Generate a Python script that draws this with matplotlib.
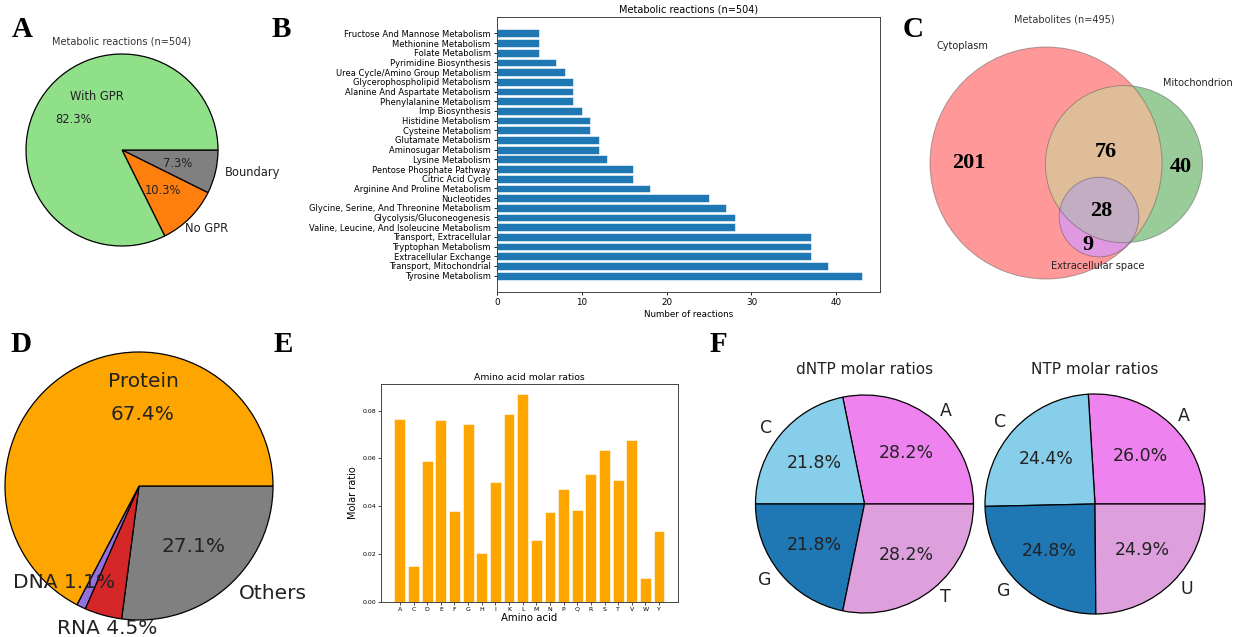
import numpy as np
import matplotlib
matplotlib.use('Agg')
import matplotlib.pyplot as plt
from matplotlib.patches import Circle

plt.rcParams['font.family'] = 'DejaVu Sans'

# ---------------- data ----------------
# A: reaction GPR status (counts, n=504)
gpr_labels = ['Boundary', 'No GPR', 'With GPR']
gpr_counts = [37, 52, 415]
gpr_colors = ['#808080', '#ff7f0e', '#90e08a']

# B: reactions per subsystem
subsystems = ['Tyrosine Metabolism', 'Transport, Mitochondrial', 'Extracellular Exchange',
              'Tryptophan Metabolism', 'Transport, Extracellular',
              'Valine, Leucine, And Isoleucine Metabolism', 'Glycolysis/Gluconeogenesis',
              'Glycine, Serine, And Threonine Metabolism', 'Nucleotides',
              'Arginine And Proline Metabolism', 'Citric Acid Cycle', 'Pentose Phosphate Pathway',
              'Lysine Metabolism', 'Aminosugar Metabolism', 'Glutamate Metabolism',
              'Cysteine Metabolism', 'Histidine Metabolism', 'Imp Biosynthesis',
              'Phenylalanine Metabolism', 'Alanine And Aspartate Metabolism',
              'Glycerophospholipid Metabolism', 'Urea Cycle/Amino Group Metabolism',
              'Pyrimidine Biosynthesis', 'Folate Metabolism', 'Methionine Metabolism',
              'Fructose And Mannose Metabolism']
subsystem_counts = [43, 39, 37, 37, 37, 28, 28, 27, 25, 18, 16, 16, 13, 12, 12, 11, 11, 10,
                    9, 9, 9, 8, 7, 5, 5, 5]

# C: metabolite compartments (Venn region counts)
venn_set_names = ['Cytoplasm', 'Mitochondrion', 'Extracellular space']
venn_only_cyto = 201
venn_only_mito = 40
venn_cyto_mito = 76
venn_cyto_extra = 9
venn_all = 28

# D: biomass composition (%)
comp_labels = ['Others', 'RNA', 'DNA', 'Protein']
comp_pct = [27.1, 4.5, 1.1, 67.4]
comp_colors = ['#808080', '#d62728', '#9370db', '#ffa500']

# E: amino acid molar ratios
amino_acids = ['A', 'C', 'D', 'E', 'F', 'G', 'H', 'I', 'K', 'L',
               'M', 'N', 'P', 'Q', 'R', 'S', 'T', 'V', 'W', 'Y']
aa_ratios = [0.0764, 0.0150, 0.0588, 0.0760, 0.0381, 0.0743, 0.0204, 0.0500, 0.0788, 0.0868,
             0.0261, 0.0378, 0.0472, 0.0386, 0.0537, 0.0637, 0.0512, 0.0677, 0.0101, 0.0295]

# F: nucleotide molar ratios
dntp_labels = ['A', 'C', 'G', 'T']
dntp_pct = [28.2, 21.8, 21.8, 28.2]
ntp_labels = ['A', 'C', 'G', 'U']
ntp_pct = [26.0, 24.4, 24.8, 24.9]
nuc_colors = ['#ee82ee', '#87ceeb', '#1f77b4', '#dda0dd']

# ---------------- layout helpers ----------------
W, H = 1243, 637
fig = plt.figure(figsize=(W / 100, H / 100), dpi=100)


def rect_px(l, t, r, b):
    return [l / W, 1 - b / H, (r - l) / W, (b - t) / H]


def pie_axes(cx, cy, r, hw, hh):
    ax = fig.add_axes(rect_px(cx - hw, cy - hh, cx + hw, cy + hh))
    return ax, hw / r, hh / r


def fix_pie(ax, lx, ly):
    ax.set_xlim(-lx, lx)
    ax.set_ylim(-ly, ly)
    ax.set_aspect('auto')
    ax.axis('off')


txt = '#222222'
letter_font = dict(family='Liberation Serif', fontweight='bold', fontsize=21)

# ---------------- Panel A ----------------
axA, lx, ly = pie_axes(122, 150, 96, 140, 140)
axA.pie(gpr_counts, colors=gpr_colors, startangle=0, counterclock=False,
        autopct='%1.1f%%', pctdistance=0.6,
        wedgeprops=dict(edgecolor='black', linewidth=0.9),
        textprops=dict(fontsize=8.3, color=txt))
fix_pie(axA, lx, ly)
axA.text(-0.26, 0.56, gpr_labels[2], ha='center', va='center', fontsize=8.3, color=txt)
axA.text(0.66, -0.82, gpr_labels[1], ha='left', va='center', fontsize=8.3, color=txt)
axA.text(1.07, -0.23, gpr_labels[0], ha='left', va='center', fontsize=8.3, color=txt)
axA.text(0, 1.125, 'Metabolic reactions (n=504)', ha='center', va='center', fontsize=7, color='#333333')

# ---------------- Panel B ----------------
axB = fig.add_axes(rect_px(497, 17, 880, 292))
ypos = np.arange(len(subsystems))
axB.barh(ypos, subsystem_counts, height=0.8, color='#1f77b4', edgecolor='white', linewidth=0.4)
axB.set_yticks(ypos)
axB.set_yticklabels(subsystems, fontsize=6)
axB.set_xticks([0, 10, 20, 30, 40])
axB.tick_params(axis='x', labelsize=6.3, length=2.5, width=0.6, pad=2)
axB.tick_params(axis='y', length=2.5, width=0.6, pad=2)
axB.set_xlabel('Number of reactions', fontsize=6.3, labelpad=2)
axB.set_title('Metabolic reactions (n=504)', fontsize=7, pad=3)
for s in axB.spines.values():
    s.set_linewidth(0.7)
    s.set_color('#444444')

# ---------------- Panel C (Venn) ----------------
cyto_total = venn_only_cyto + venn_cyto_mito + venn_cyto_extra + venn_all
mito_total = venn_only_mito + venn_cyto_mito + venn_all
extra_total = venn_cyto_extra + venn_all
radii = np.sqrt(np.array([cyto_total, mito_total, extra_total]) / cyto_total)
centers = [(0.0, 0.0), (0.672, -0.01), (0.457, -0.466)]

scale = 116.0
ccx, ccy = 1046, 163
axC = fig.add_axes(rect_px(890, 0, 1243, 320))
axC.set_xlim((890 - ccx) / scale, (1243 - ccx) / scale)
axC.set_ylim((ccy - 320) / scale, ccy / scale)
axC.axis('off')

base = [np.array([1.0, 0.0, 0.0]), np.array([0.0, 0.5, 0.0]), np.array([0.0, 0.0, 1.0])]


def blend(c):
    c = np.minimum(c, 1.0)
    return tuple(1 - 0.4 * (1 - c))


col_a = blend(base[0])
col_b = blend(base[1])
col_ab = blend(0.7 * (base[0] + base[1]))
col_ac = blend(0.7 * (base[0] + base[2]))
col_abc = blend(0.4 * (base[0] + base[1] + base[2]))


def circ(i, color, clip=None, z=1):
    c = Circle(centers[i], radii[i], facecolor=color, edgecolor='none', zorder=z)
    axC.add_patch(c)
    if clip is not None:
        cp = Circle(centers[clip], radii[clip], transform=axC.transData)
        c.set_clip_path(cp)
    return c


circ(0, col_a, z=1)
circ(1, col_b, z=2)
circ(1, col_ab, clip=0, z=3)
circ(2, col_ac, clip=0, z=4)
circ(2, col_abc, clip=1, z=5)
for i in range(3):
    axC.add_patch(Circle(centers[i], radii[i], facecolor='none', edgecolor=(0.3, 0.3, 0.3, 0.45),
                         linewidth=0.7, zorder=6))

num_font = dict(family='Liberation Serif', fontweight='bold', fontsize=16, ha='center', va='center', zorder=7)
axC.text(-0.664, 0.0, str(venn_only_cyto), **num_font)
axC.text(0.517, 0.095, str(venn_cyto_mito), **num_font)
axC.text(1.164, -0.034, str(venn_only_mito), **num_font)
axC.text(0.474, -0.414, str(venn_all), **num_font)
axC.text(0.362, -0.707, str(venn_cyto_extra), **num_font)
axC.text(-0.724, 1.009, venn_set_names[0], ha='center', va='center', fontsize=7, color=txt, zorder=7)
axC.text(1.31, 0.69, venn_set_names[1], ha='center', va='center', fontsize=7, color=txt, zorder=7)
axC.text(0.448, -0.888, venn_set_names[2], ha='center', va='center', fontsize=7, color=txt, zorder=7)
axC.text(0.155, 1.241, 'Metabolites (n=495)', ha='center', va='center', fontsize=7, color='#333333')

# ---------------- Panel D ----------------
axD, lx, ly = pie_axes(139, 486, 134, 145, 145)
axD.pie(comp_pct, colors=comp_colors, startangle=0, counterclock=False,
        wedgeprops=dict(edgecolor='black', linewidth=0.9))
fix_pie(axD, lx, ly)
dfont = dict(fontsize=14.5, color=txt, ha='center', va='center')
axD.text(0.03, 0.78, comp_labels[3], **dfont)
axD.text(0.03, 0.53, f'{comp_pct[3]:.1f}%', **dfont)
axD.text(0.41, -0.45, f'{comp_pct[0]:.1f}%', **dfont)
axD.text(1.0, -0.80, comp_labels[0], **dfont)
axD.text(-0.56, -0.72, f'{comp_labels[2]} {comp_pct[2]:.1f}%', **dfont)
axD.text(-0.24, -1.06, f'{comp_labels[1]} {comp_pct[1]:.1f}%', **dfont)

# ---------------- Panel E ----------------
axE = fig.add_axes(rect_px(381, 384, 678, 602))
axE.bar(amino_acids, aa_ratios, color='#ffa500', edgecolor='white', linewidth=0.4)
axE.set_yticks([0.0, 0.02, 0.04, 0.06, 0.08])
axE.tick_params(labelsize=4.5, length=2, width=0.5, pad=1.5)
axE.set_xlabel('Amino acid', fontsize=7.3, labelpad=1)
axE.set_ylabel('Molar ratio', fontsize=7.0, labelpad=3)
axE.set_title('Amino acid molar ratios', fontsize=6.7, pad=3)
for s in axE.spines.values():
    s.set_linewidth(0.7)
    s.set_color('#444444')

# ---------------- Panel F ----------------
for (cx, r, labels, vals, title) in [(864.5, 109, dntp_labels, dntp_pct, 'dNTP molar ratios'),
                                       (1095, 110, ntp_labels, ntp_pct, 'NTP molar ratios')]:
    axF, lx, ly = pie_axes(cx, 504, r, 116, 150)
    axF.pie(vals, labels=labels, colors=nuc_colors, startangle=0,
            autopct='%1.1f%%', pctdistance=0.6, labeldistance=1.1,
            wedgeprops=dict(edgecolor='black', linewidth=0.9),
            textprops=dict(fontsize=12.5, color=txt))
    fix_pie(axF, lx, ly)
    axF.text(0, (504 - 370) / r, title, ha='center', va='center', fontsize=11, color=txt)

# ---------------- panel letters ----------------
for letter, x, y in [('A', 12, 37), ('B', 272, 37), ('C', 903, 37),
                     ('D', 10, 352), ('E', 274, 352), ('F', 710, 352)]:
    fig.text(x / W, 1 - y / H, letter, va='baseline', ha='left', **letter_font)

fig.savefig('out.png', dpi=100)
